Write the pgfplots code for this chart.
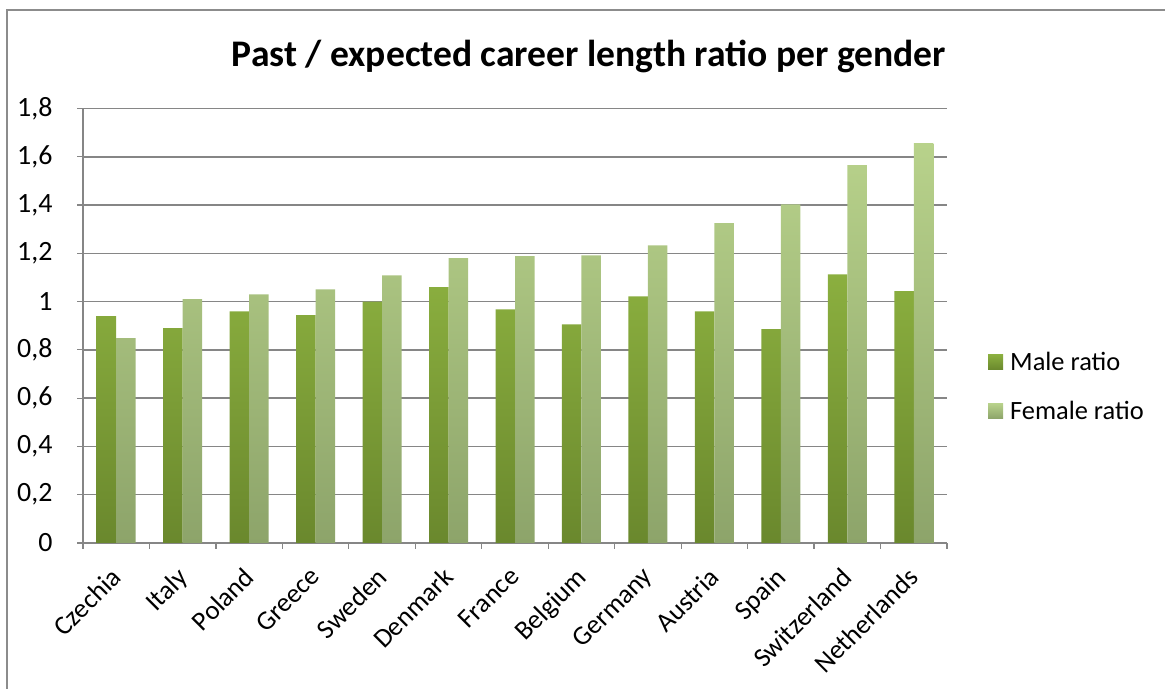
\documentclass[border=0pt]{standalone}
\usepackage{pgfplots}
\pgfplotsset{compat=1.18}
\usepackage{fontspec}
\setmainfont{Carlito}
\definecolor{maletop}{RGB}{139,175,63}
\definecolor{malebot}{RGB}{106,136,45}
\definecolor{femtop}{RGB}{184,210,139}
\definecolor{fembot}{RGB}{141,164,106}
\definecolor{gridgray}{RGB}{134,134,134}
\definecolor{framegray}{RGB}{140,140,140}
\pgfplotstableread{
idx male female
0 0.940 0.849
1 0.890 1.010
2 0.960 1.030
3 0.944 1.051
4 1.000 1.109
5 1.060 1.180
6 0.968 1.188
7 0.906 1.192
8 1.022 1.233
9 0.960 1.325
10 0.886 1.403
11 1.113 1.565
12 1.043 1.656
}\datatable
\begin{document}
\begin{tikzpicture}[x=1bp,y=1bp]
\useasboundingbox (0,0) rectangle (1165,689);
\draw[framegray, line width=1.5bp] (7,-5) -- (7,679) -- (1170,679);
\node[anchor=base, font=\fontsize{37.7}{44}\selectfont\bfseries] at (589,622) {Past / expected career length ratio per gender};
\begin{axis}[
  at={(83bp,146bp)}, anchor=south west,
  scale only axis, width=864bp, height=434.5bp,
  xmin=-0.5, xmax=12.5, ymin=0, ymax=1.8,
  ybar=0pt, bar width=19.5bp,
  axis x line*=bottom, axis y line*=left,
  axis line style={gridgray, line width=1.3bp, -},
  ytick={0,0.2,...,1.81},
  ymajorgrids, major grid style={gridgray, line width=1.5bp},
  tick align=outside, major tick length=6bp,
  tick style={gridgray, line width=1.2bp},
  xtick={-0.5,0.5,...,12.6}, xticklabels={},
  extra x ticks={0,1,...,12},
  extra x tick labels={Czechia,Italy,Poland,Greece,Sweden,Denmark,France,Belgium,Germany,Austria,Spain,Switzerland,Netherlands},
  extra x tick style={major tick length=0pt, grid=none,
     tick label style={rotate=45, anchor=north east, font=\fontsize{27}{32}\selectfont, xshift=-17.5bp, yshift=-8bp}},
  yticklabel style={font=\fontsize{28}{33}\selectfont, xshift=-21bp,
     /pgf/number format/.cd, use comma, fixed, precision=1, assume math mode=true},
  legend style={at={(1.0,0.360)}, anchor=west, xshift=38bp, draw=none, fill=none,
     font=\fontsize{26.5}{31}\selectfont, row sep=25bp,
     /tikz/every even column/.append style={column sep=4bp}},
  legend cell align=left,
  legend image code/.code={\fill[#1] (0bp,-7.5bp) rectangle (15bp,7.5bp);},
  clip=false,
]
\addplot[draw=none, top color=maletop, bottom color=malebot] table[x=idx,y=male] {\datatable};
\addplot[draw=none, top color=femtop, bottom color=fembot] table[x=idx,y=female] {\datatable};
\legend{\hspace{5bp}Male ratio, \hspace{5bp}Female ratio}
\end{axis}
\end{tikzpicture}
\end{document}
